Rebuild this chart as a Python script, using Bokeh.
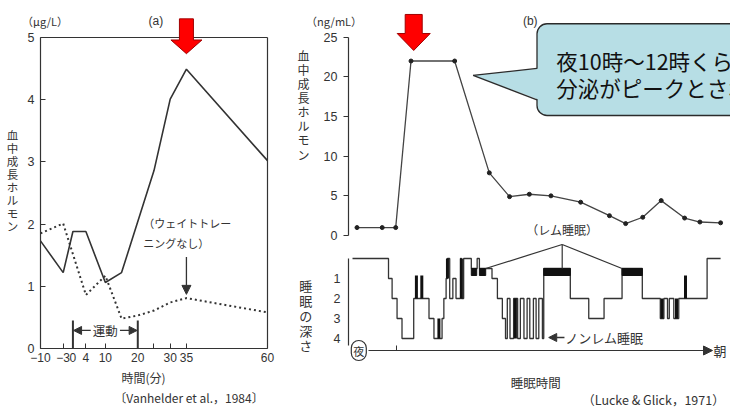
from bokeh.plotting import figure
from bokeh.layouts import row, column
from bokeh.models import (Range1d, FixedTicker, Label, Arrow, NormalHead, LinearAxis,
                          PolyAnnotation, BoxAnnotation)
from bokeh.embed import file_html
from bokeh.resources import INLINE

JP = "Noto Sans CJK JP"
LAT = "Liberation Sans"
INK = "#333333"
RED = "#ff0000"

# ---------------- (a) Vanhelder et al., 1984 ----------------
a_ticks = [-10, -3, 0, 4, 10, 20, 30, 35, 60]
a_minor_ticks = [25]
a_tick_labels = {-10: "−10", -3: "−3"}
a_y_ticks = [0, 1, 2, 3, 4, 5]
a_time_solid = [-10, -3, 0, 4, 10, 15, 25, 30, 35, 60]
a_gh_solid = [1.73, 1.22, 1.88, 1.88, 1.06, 1.22, 2.86, 4.01, 4.49, 3.02]
a_time_dot = [-10, -3, 4, 10, 15, 20, 25, 30, 35, 60]
a_gh_dot = [1.85, 2.01, 0.86, 1.17, 0.48, 0.53, 0.61, 0.74, 0.81, 0.58]
a_exercise = [0, 20]
a_peak_time = 35

# ---------------- (b) Lucke & Glick, 1971 ----------------
b_y_ticks = [0, 5, 10, 15, 20, 25]
b_time = [0.10, 0.66, 0.96, 1.30, 2.27, 3.04, 3.49, 3.93, 4.41, 5.07, 5.71,
          6.07, 6.45, 6.86, 7.38, 7.72, 8.18]
b_gh = [1.0, 1.0, 1.0, 22.0, 22.0, 7.9, 4.9, 5.2, 5.0, 4.2, 2.5,
        1.5, 2.3, 4.4, 2.2, 1.7, 1.6]
b_peak_time = 1.36

# sleep depth (0 = awake, 0.5 = REM, 1-4 = stages)
sleep_ticks = [1, 2, 3, 4]
sleep_t = [0.00, 0.80, 0.88, 0.99, 1.10, 1.36, 1.70, 1.81, 1.99, 2.03, 2.08,
           2.11, 2.16, 2.23, 2.30, 2.40, 2.42, 2.47, 2.64, 2.77, 2.82, 3.10,
           3.22, 3.33, 3.40, 3.44, 3.50, 3.58, 3.67, 3.73, 3.81, 3.88, 3.94,
           4.02, 4.08, 4.14, 4.22, 4.25, 4.84, 5.25, 5.59, 5.99, 6.44, 6.84,
           6.92, 7.00, 7.04, 7.14, 7.25, 7.88, 8.18]
sleep_stage = [0, 1, 2, 3, 4, 2, 3, 4, 3, 2, 1,
               0, 2, 1, 2, 0, 2, 0, 0.5, 0, 0.5, 1,
               2, 3, 4, 2, 4, 2, 4, 2, 4, 2, 4,
               2, 4, 2, 4, 0.5, 2, 3, 2, 0.5, 2, 3,
               2, 3, 2, 3, 2, 0, 0]
rem_start = [2.64, 2.82, 4.25, 5.99]
rem_end = [2.76, 2.96, 4.84, 6.44]
spike_t = [1.42, 1.54, 1.92, 2.11, 2.42, 3.62, 6.88, 7.20, 7.40]
spike_top = [0.85, 0.85, 3, 0, 0, 2, 2, 2, 0.85]
spike_bottom = [2, 2, 4, 1, 2, 4, 3, 3, 2]
sleep_onset_tick = [0.98]
rem_label_t = 4.66


def make_axis(ticks, minor=(), fixed=None, bounds=None, tick_in=0, tick_out=0,
              size="12.5px", standoff=6):
    ax = LinearAxis(ticker=FixedTicker(ticks=list(ticks), minor_ticks=list(minor)),
                    fixed_location=fixed, bounds=bounds)
    ax.axis_line_color = INK
    ax.axis_line_width = 1.2
    ax.major_tick_line_color = INK
    ax.minor_tick_line_color = INK
    ax.major_tick_in = tick_in
    ax.major_tick_out = tick_out
    ax.minor_tick_in = tick_in
    ax.minor_tick_out = tick_out
    ax.major_label_text_font = LAT
    ax.major_label_text_font_size = size
    ax.major_label_text_color = INK
    ax.major_label_standoff = standoff
    return ax


def lab(p, x, y, text, size="12px", font=JP, align="center", baseline="middle", **kw):
    p.add_layout(Label(x=x, y=y, text=text, text_font=font, text_font_size=size,
                       text_color=kw.pop("color", INK), text_align=align,
                       text_baseline=baseline, **kw))


def red_arrow(p, cx, half_shaft, half_head, y_top, y_neck, y_tip):
    xs = [cx - half_shaft, cx + half_shaft, cx + half_shaft, cx + half_head, cx,
          cx - half_head, cx - half_shaft]
    ys = [y_top, y_top, y_neck, y_neck, y_tip, y_neck, y_neck]
    p.add_layout(PolyAnnotation(xs=xs, ys=ys, fill_color=RED, fill_alpha=1,
                                line_color="#a00000", line_alpha=1, line_width=1))


def base_fig(w, h, xr, yr):
    p = figure(width=w, height=h, x_range=xr, y_range=yr,
               x_axis_location=None, y_axis_location=None,
               output_backend="svg", toolbar_location=None, min_border=0)
    p.grid.visible = False
    p.outline_line_color = None
    return p


# ====================== figure (a) ======================
pa = base_fig(290, 407, Range1d(-22.33, 67.09), Range1d(-0.949, 5.595))
pa.add_layout(make_axis(a_y_ticks, fixed=-10, bounds=(0, 5), tick_in=5), "left")
ax_b = make_axis(a_ticks, a_minor_ticks, fixed=0, bounds=(-10, 60), tick_in=5,
                 size="12px", standoff=5)
ax_b.major_label_overrides = a_tick_labels
pa.add_layout(ax_b, "below")
pa.add_layout(make_axis([], fixed=60, bounds=(0, 5)), "right")
pa.add_layout(make_axis([], fixed=5, bounds=(-10, 60)), "above")

pa.line(a_time_solid, a_gh_solid, line_color=INK, line_width=1.6)
pa.line(a_time_dot, a_gh_dot, line_color=INK, line_width=2, line_dash="2 3")

# exercise bracket
pa.segment(x0=a_exercise, y0=[0, 0], x1=a_exercise, y1=[0.45, 0.45],
           line_color=INK, line_width=2)
mid = (a_exercise[0] + a_exercise[1]) / 2
for x_from, x_to in ((mid - 4.5, a_exercise[0] + 0.2), (mid + 4.5, a_exercise[1] - 0.2)):
    pa.add_layout(Arrow(x_start=x_from, y_start=0.29, x_end=x_to, y_end=0.29,
                        line_color=INK, line_width=1.3,
                        end=NormalHead(size=8, fill_color=INK, line_color=INK)))
lab(pa, mid, 0.29, "運動", size="12.5px")

# (weight training none)
lab(pa, 21.7, 2.01, "（ウェイトトレー", size="11px", align="left")
lab(pa, 21.7, 1.69, "ニングなし）", size="11px", align="left")
pa.add_layout(Arrow(x_start=a_peak_time, y_start=1.47, x_end=a_peak_time, y_end=0.87,
                    line_color=INK, line_width=1.3,
                    end=NormalHead(size=9, fill_color=INK, line_color=INK)))

red_arrow(pa, a_peak_time, 2.16, 4.78, 5.30, 4.96, 4.74)

lab(pa, -18.6, 2.70, "\n".join("血中成長ホルモン"), size="11.5px", text_line_height=0.82)
lab(pa, -8.6, 5.26, "（μg/L）", size="11px")
lab(pa, 25.6, 5.26, "(a)", size="12px", font=LAT)
lab(pa, 21.8, -0.466, "時間(分)", size="12px")
lab(pa, 35.8, -0.788, "〔Vanhelder et al.，1984〕", size="12px")

# ====================== figure (b) ======================
xr = Range1d(-1.378, 8.4)
pb = base_fig(440, 243, xr, Range1d(-1.008, 29.63))
pb.add_layout(make_axis(b_y_ticks, fixed=-0.0889, bounds=(0, 25), tick_out=5), "left")

pb.line(b_time, b_gh, line_color="#444444", line_width=1.3)
pb.scatter(b_time, b_gh, size=4, color="#222222")

red_arrow(pb, b_peak_time, 0.189, 0.367, 27.87, 25.47, 23.33)

# callout
CALL = "#b7dee5"
CALL_LINE = "#2b2b2b"
pb.add_layout(BoxAnnotation(left=4.10, right=9.5, top=26.7, bottom=15.13,
                            fill_color=CALL, fill_alpha=1, line_color=CALL_LINE,
                            line_alpha=1, line_width=1.3, border_radius=10))
pb.add_layout(PolyAnnotation(xs=[4.16, 2.68, 4.16], ys=[21.06, 20.2, 17.1],
                             fill_color=CALL, fill_alpha=1, line_color=None))
for yb in (21.06, 17.1):
    pb.add_layout(Arrow(x_start=2.68, y_start=20.2, x_end=4.10, y_end=yb, end=None,
                        line_color=CALL_LINE, line_width=1.3))
lab(pb, 4.53, 22.07, "夜10時～12時くらいに", size="21.5px", align="left", color="#111111")
lab(pb, 4.53, 18.70, "分泌がピークとされる", size="21.5px", align="left", color="#111111")

lab(pb, -1.09, 16.5, "\n".join("血中成長ホルモン"), size="12px", text_line_height=0.83)
lab(pb, -0.41, 27.1, "（ng/mL）", size="11px")
lab(pb, 3.95, 27.1, "(b)", size="12px", font=LAT, level="overlay")
lab(pb, rem_label_t, 0.72, "（レム睡眠）", size="12px")

# ====================== figure (c) sleep depth ======================
pc = base_fig(440, 164, xr, Range1d(7.45, -0.75))
pc.add_layout(make_axis(sleep_ticks, fixed=-0.0889, bounds=(0, 4.35), standoff=8), "left")
pc.add_layout(make_axis([], sleep_onset_tick, fixed=4.6, bounds=(0.36, 7.9), tick_in=5),
              "below")
pc.add_layout(Arrow(x_start=7.8, y_start=4.6, x_end=8.0, y_end=4.6,
                    line_color=INK, line_width=1.2,
                    end=NormalHead(size=9, fill_color=INK, line_color=INK)))

pc.step(sleep_t, sleep_stage, mode="after", line_color=INK, line_width=1.3)
pc.quad(left=rem_start, right=rem_end, top=0.5, bottom=0.85, color="#111111")
pc.segment(x0=spike_t, y0=spike_top, x1=spike_t, y1=spike_bottom,
           line_color="#111111", line_width=3)

apex = (rem_label_t, -0.7)
targets = [(rem_end[1], 0.5), (rem_label_t, 0.5), (rem_start[3], 0.5)]
pc.multi_line(xs=[[apex[0], t[0]] for t in targets],
              ys=[[apex[1], t[1]] for t in targets], line_color=INK, line_width=1.2)

pc.add_layout(Arrow(x_start=4.71, y_start=3.95, x_end=4.36, y_end=3.95,
                    line_color=INK, line_width=1.3,
                    end=NormalHead(size=8, fill_color=INK, line_color=INK)))
lab(pc, 4.73, 3.95, "ノンレム睡眠", size="13px", align="left")
lab(pc, -1.04, 2.85, "\n".join("睡眠の深さ"), size="13px", text_line_height=0.78)
lab(pc, 0.14, 4.6, "夜", size="11px", border_line_color=INK, border_line_width=1.2,
    border_radius=8, padding=2, background_fill_color="white")
lab(pc, 8.02, 4.6, "朝", size="13px", align="left")
lab(pc, 4.07, 6.19, "睡眠時間", size="12.5px")
lab(pc, 8.27, 7.05, "（Lucke & Glick，1971）", size="12.5px", align="right")

layout = row(pa, column(pb, pc, spacing=0), spacing=0)
open("out.html", "w").write(file_html(layout, INLINE))
